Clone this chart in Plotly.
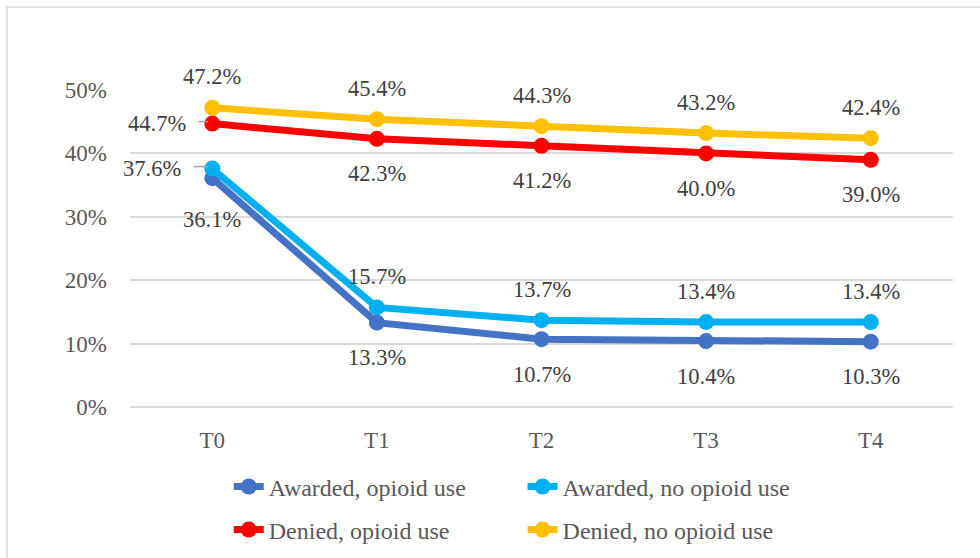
import plotly.graph_objects as go

categories = ["T0", "T1", "T2", "T3", "T4"]
awarded_opioid = [36.1, 13.3, 10.7, 10.4, 10.3]
awarded_no_opioid = [37.6, 15.7, 13.7, 13.4, 13.4]
denied_opioid = [44.7, 42.3, 41.2, 40.0, 39.0]
denied_no_opioid = [47.2, 45.4, 44.3, 43.2, 42.4]
y_ticks = [0, 10, 20, 30, 40, 50]

series = [
    ("Awarded, opioid use", awarded_opioid, "#4472C4", "legend"),
    ("Awarded, no opioid use", awarded_no_opioid, "#00B0F0", "legend2"),
    ("Denied, opioid use", denied_opioid, "#FF0000", "legend3"),
    ("Denied, no opioid use", denied_no_opioid, "#FFC000", "legend4"),
]
# label placement per series per point: 'a' above, 'b' below, 'l' left
placements = [
    ["b2", "b", "b", "b", "b"],
    ["l2", "a", "a", "a", "a"],
    ["l", "b", "b", "b", "b"],
    ["a", "a", "a", "a", "a"],
]

FONT = "Liberation Serif"
fig = go.Figure()
annotations = []
shapes = []
for (name, vals, color, leg), pl in zip(series, placements):
    fig.add_trace(go.Scatter(
        x=categories, y=vals, name=name, mode="lines+markers",
        line=dict(color=color, width=7),
        marker=dict(color=color, size=16),
        legend=leg,
    ))
    for c, v, p in zip(categories, vals, pl):
        txt = f"{v:.1f}%"
        a = dict(x=c, y=v, xref="x", yref="y", text=txt, showarrow=False,
                 font=dict(family=FONT, size=22.5, color="#404040"))
        if p == "a":
            a.update(yshift=31)
        elif p == "b":
            a.update(yshift=-35)
        elif p == "b2":
            a.update(yshift=-41)
        elif p in ("l", "l2"):
            xs = -24 if p == "l" else -29
            a.update(xanchor="right", xshift=xs, yshift=0)
            shapes.append(dict(type="line", xref="x", yref="y",
                               xsizemode="pixel", ysizemode="pixel",
                               xanchor=c, yanchor=v,
                               x0=xs + 10, x1=-4, y0=2, y1=2,
                               line=dict(color="#A6A6A6", width=1.5),
                               layer="above"))
        annotations.append(a)

# outer chart border
shapes.append(dict(type="rect", xref="paper", yref="paper",
                   x0=-123 / 823, x1=855 / 823, y0=-160 / 317, y1=400 / 317,
                   line=dict(color="#D9D9D9", width=1.5), layer="below"))

def leg(xp, yp):
    return dict(orientation="h", x=xp, xanchor="left", y=yp, yanchor="middle",
                font=dict(family=FONT, size=24, color="#595959"),
                bgcolor="rgba(0,0,0,0)")

fig.update_layout(
    width=980, height=558,
    margin=dict(l=130, r=27, t=90, b=151, autoexpand=False),
    paper_bgcolor="white", plot_bgcolor="white",
    font=dict(family=FONT, size=22, color="#595959"),
    annotations=annotations,
    shapes=shapes,
    showlegend=True,
    legend=leg(0.1200, -0.252),
    legend2=leg(0.4770, -0.252),
    legend3=leg(0.1200, -0.388),
    legend4=leg(0.4770, -0.388),
    xaxis=dict(type="category", categoryorder="array", categoryarray=categories,
               range=[-0.5, 4.5], showgrid=False, showline=False, zeroline=False,
               ticks="", ticklabelstandoff=17,
               tickfont=dict(family=FONT, size=23, color="#595959")),
    yaxis=dict(range=[0, 50], tickvals=y_ticks, ticktext=[f"{t}%" for t in y_ticks],
               showgrid=True, gridcolor="#D9D9D9", gridwidth=1.5,
               zeroline=True, zerolinecolor="#D9D9D9", zerolinewidth=1.5,
               showline=False, ticks="", ticklabelstandoff=22,
               tickfont=dict(family=FONT, size=23, color="#595959")),
)
fig.write_html("out.html")
